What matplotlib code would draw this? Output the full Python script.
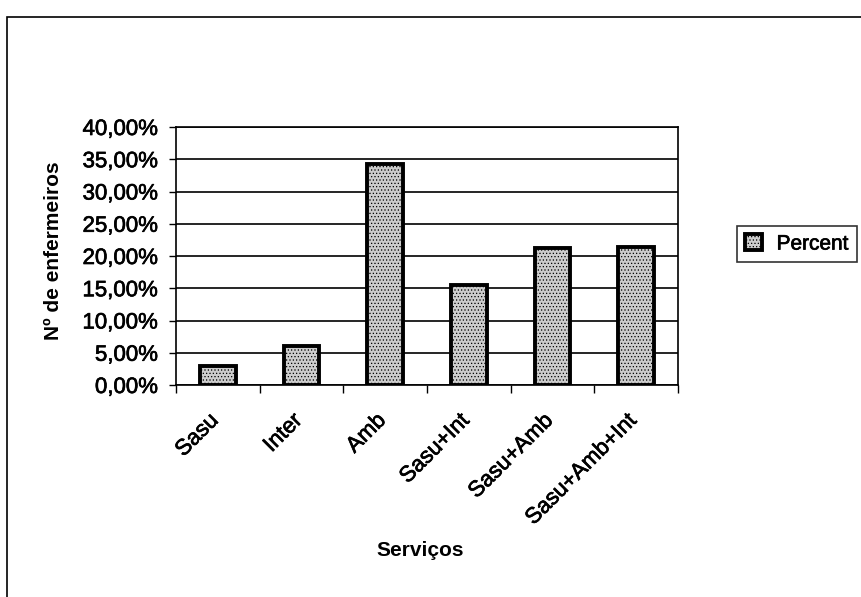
import matplotlib.pyplot as plt
from matplotlib.patches import Rectangle
from matplotlib.ticker import FuncFormatter, FixedLocator
from matplotlib.transforms import ScaledTranslation
import matplotlib.patheffects as pe

plt.rcParams['font.family'] = ['Liberation Sans', 'DejaVu Sans']
plt.rcParams['hatch.color'] = '#8a8a8a'
plt.rcParams['hatch.linewidth'] = 0.5

# Dados
servicos = ["Sasu", "Inter", "Amb", "Sasu+Int", "Sasu+Amb", "Sasu+Amb+Int"]
percent = [3.0, 6.0, 34.2, 15.5, 21.3, 21.4]
yticks = [0, 5, 10, 15, 20, 25, 30, 35, 40]

W, H = 861, 597
fig = plt.figure(figsize=(W / 100, H / 100), dpi=100)
ax = fig.add_axes([176 / W, 1 - 385 / H, 502 / W, 258 / H])

x = list(range(len(servicos)))
ax.bar(x, percent, width=0.43, color='#cdcdcd', edgecolor='black',
       linewidth=2.8, hatch='.....', label='Percent', zorder=3)

ax.set_xlim(-0.5, len(servicos) - 0.5)
ax.set_ylim(0, 40)
ax.set_yticks(yticks)
ax.yaxis.set_major_formatter(FuncFormatter(lambda v, p: f"{v:.2f}%".replace('.', ',')))
ax.grid(axis='y', color='black', linewidth=1.2, zorder=0)

# ticks do eixo x nas fronteiras das categorias
ax.set_xticks(x)
ax.set_xticklabels(servicos, rotation=45, ha='right', rotation_mode='anchor', fontsize=16)
ax.tick_params(axis='x', length=0, pad=18)
ax.xaxis.set_minor_locator(FixedLocator([i - 0.5 for i in range(len(servicos) + 1)]))
ax.tick_params(axis='x', which='minor', length=6, width=1, direction='out')
ax.tick_params(axis='y', length=5, width=1, direction='out', labelsize=16, pad=8)

# deslocar rótulos um pouco para a esquerda
offset = ScaledTranslation(-7 / 72, 0, fig.dpi_scale_trans)
for lbl in ax.get_xticklabels():
    lbl.set_transform(lbl.get_transform() + offset)

stroke = [pe.withStroke(linewidth=0.5, foreground='black')]
for lbl in ax.get_xticklabels() + ax.get_yticklabels():
    lbl.set_path_effects(stroke)

for s in ax.spines.values():
    s.set_color('black')
    s.set_linewidth(1.2)

fig.text(54 / W, 1 - 251 / H, "Nº de enfermeiros", fontsize=15, fontweight='bold',
         rotation=90, ha='center', va='center')
fig.text(420 / W, 1 - 550 / H, "Serviços", fontsize=15, fontweight='bold', ha='center', va='center')

leg = fig.legend(loc='upper left', bbox_to_anchor=(737 / W, 1 - 226 / H), fontsize=15,
                 frameon=True, fancybox=False, borderpad=0.4, handlelength=0.8,
                 handleheight=0.8, handletextpad=0.7, borderaxespad=0)
leg.get_frame().set_edgecolor('black')
leg.get_frame().set_linewidth(1.2)
for t in leg.get_texts():
    t.set_path_effects(stroke)

# moldura do gráfico
fig.patches.append(Rectangle((7 / W, -0.05), 1.1, 1 - 17 / H + 0.05, transform=fig.transFigure,
                             fill=False, edgecolor='black', linewidth=1.2))

fig.savefig("out.png", dpi=100)
